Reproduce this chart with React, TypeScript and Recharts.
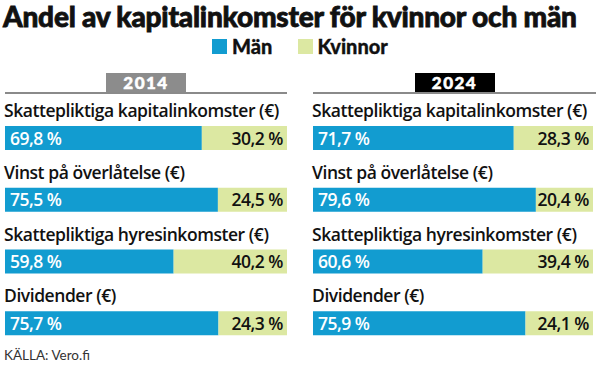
import React from "react";
import { BarChart, Bar, XAxis, YAxis, LabelList } from "recharts";

const categories = [
    "Skattepliktiga kapitalinkomster (€)",
    "Vinst på överlåtelse (€)",
    "Skattepliktiga hyresinkomster (€)",
    "Dividender (€)",
];
const men2014 = [69.8, 75.5, 59.8, 75.7];
const women2014 = [30.2, 24.5, 40.2, 24.3];
const men2024 = [71.7, 79.6, 60.6, 75.9];
const women2024 = [28.3, 20.4, 39.4, 24.1];
const years = ["2014", "2024"];

const BLUE = "#129cd0";
const GREEN = "#dce8a2";
const FONT = "Lato, 'Open Sans', sans-serif";
const LABEL_FONT = "'Open Sans', Lato, sans-serif";

const fmt = (v: number) => `${v.toFixed(1).replace(".", ",")} %`;

function buildRows(men: number[], women: number[]) {
    return categories.map((name, i) => ({ name, men: men[i], women: women[i] }));
}

function CategoryLabel(props: any) {
    const { x, y, value } = props;
    return (
        <text x={x - 1} y={y - 9} fontFamily={LABEL_FONT} fontSize={17.5} fontWeight={600} letterSpacing={-0.45} fill="#111">
            {value}
        </text>
    );
}

function MenLabel(props: any) {
    const { x, y, height, value } = props;
    return (
        <text x={x + 5} y={y + height / 2 + 6.5} fontFamily={LABEL_FONT} fontSize={17.5} fontWeight={600} letterSpacing={-0.5} fill="#fff">
            {fmt(value)}
        </text>
    );
}

function WomenLabel(props: any) {
    const { x, y, width, height, value } = props;
    return (
        <text x={x + width - 4} y={y + height / 2 + 6.5} textAnchor="end" fontFamily={LABEL_FONT} fontSize={17.5} fontWeight={600} letterSpacing={-0.5} fill="#111">
            {fmt(value)}
        </text>
    );
}

function Panel({ men, women, left, right }: { men: number[]; women: number[]; left: number; right: number }) {
    const data = buildRows(men, women);
    return (
        <BarChart
            width={300}
            height={365}
            data={data}
            layout="vertical"
            margin={{ top: 107, bottom: 11, left, right }}
            barSize={24}
        >
            <XAxis type="number" domain={[0, 100]} hide />
            <YAxis type="category" dataKey="name" hide />
            <Bar dataKey="men" stackId="a" fill={BLUE} isAnimationActive={false}>
                <LabelList dataKey="name" content={CategoryLabel} />
                <LabelList dataKey="men" content={MenLabel} />
            </Bar>
            <Bar dataKey="women" stackId="a" fill={GREEN} isAnimationActive={false}>
                <LabelList dataKey="women" content={WomenLabel} />
            </Bar>
        </BarChart>
    );
}

function YearHeader({ year, dark, left, width }: { year: string; dark: boolean; left: number; width: number }) {
    return (
        <div style={{ position: "absolute", top: 73, left, width, height: 19, borderBottom: "2px solid #8a8a8a" }}>
            <div
                style={{
                    position: "absolute",
                    left: width / 2 - 40,
                    width: 80,
                    top: 0,
                    height: 19,
                    background: dark ? "#000" : "#8c8c8c",
                    color: "#fff",
                    fontFamily: FONT,
                    fontWeight: 900,
                    fontSize: 17,
                    letterSpacing: 1.5,
                    lineHeight: "19px",
                    textAlign: "center",
                    WebkitTextStroke: "0.5px #fff",
                }}
            >
                {year}
            </div>
        </div>
    );
}

export default function App() {
    return (
        <div style={{ position: "relative", width: 600, height: 365, background: "#fff", overflow: "hidden" }}>
            <style>{`body{margin:0}`}</style>
            <div
                style={{
                    position: "absolute",
                    top: -1,
                    left: 3,
                    fontFamily: FONT,
                    fontWeight: 900,
                    fontSize: 28,
                    letterSpacing: -0.2,
                    lineHeight: "34px",
                    color: "#111",
                    whiteSpace: "nowrap",
                    WebkitTextStroke: "0.8px #111",
                }}
            >
                Andel av kapitalinkomster för kvinnor och män
            </div>
            <div style={{ position: "absolute", top: 34, left: 212, height: 24, display: "flex", alignItems: "center", fontFamily: FONT, fontWeight: 900, fontSize: 20, color: "#111", WebkitTextStroke: "0.3px #111" }}>
                <span style={{ width: 15, height: 15, background: BLUE, display: "inline-block", marginRight: 5 }} />
                <span style={{ marginRight: 26 }}>Män</span>
                <span style={{ width: 15, height: 15, background: GREEN, display: "inline-block", marginRight: 4 }} />
                <span>Kvinnor</span>
            </div>
            <YearHeader year={years[0]} dark={false} left={5} width={282} />
            <YearHeader year={years[1]} dark={true} left={313} width={283} />
            <div style={{ position: "absolute", left: 0, top: 0 }}>
                <Panel men={men2014} women={women2014} left={5} right={13} />
            </div>
            <div style={{ position: "absolute", left: 300, top: 0 }}>
                <Panel men={men2024} women={women2024} left={13} right={7} />
            </div>
            <div style={{ position: "absolute", left: 4, top: 347, fontFamily: FONT, fontSize: 13.5, lineHeight: "16px", color: "#333" }}>
                KÄLLA: Vero.fi
            </div>
        </div>
    );
}
